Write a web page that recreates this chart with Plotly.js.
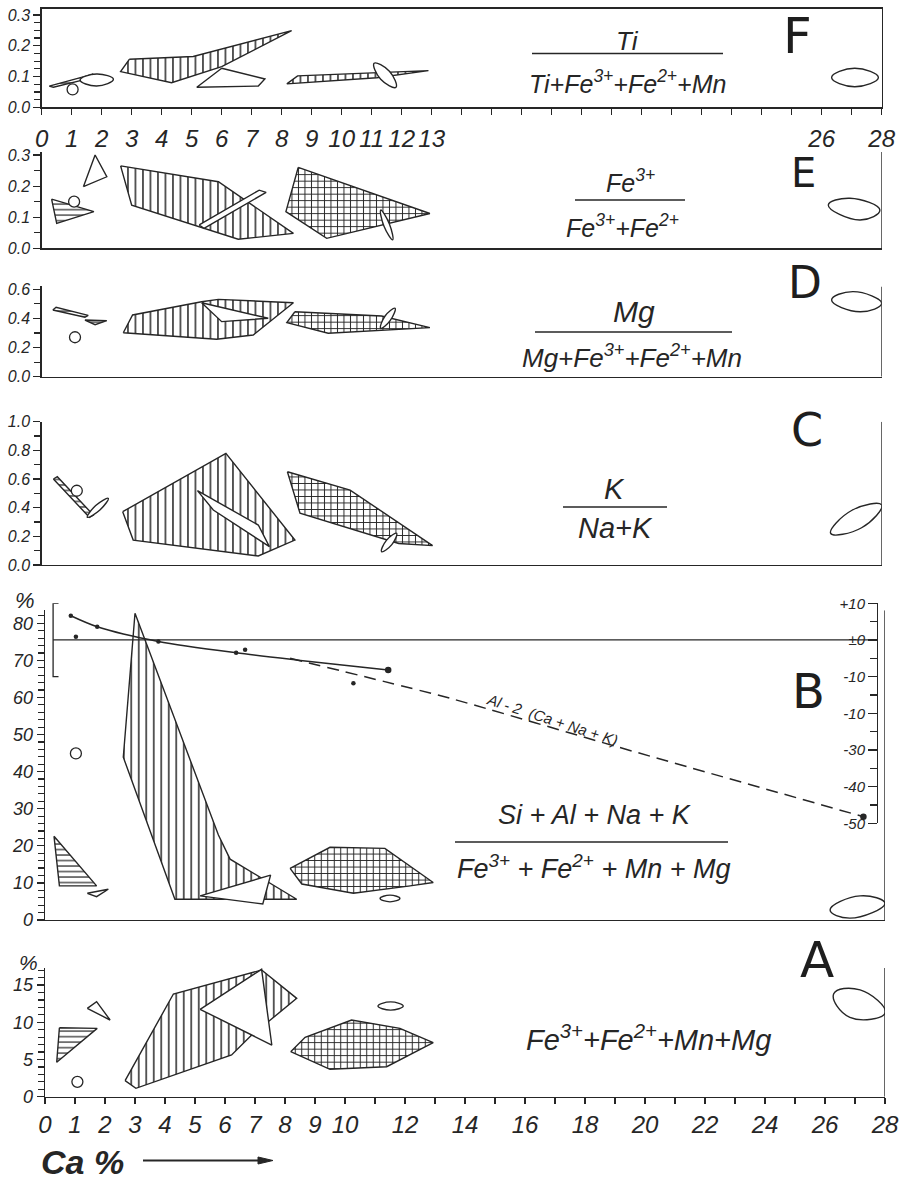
<!DOCTYPE html>
<html><head><meta charset="utf-8">
<script src="https://cdn.plot.ly/plotly-3.0.1.min.js"></script>
<style>html,body{margin:0;padding:0;background:#fff}#chart{width:901px;height:1183px}</style>
</head><body><div id="chart"></div>
<script>
// ---------------- DATA (x = Ca %, y = panel ratio) ----------------
// Panel F : Ti/(Ti+Fe3+Fe2+Mn)
const F_horiz = [[0.25,0.069],[1.72,0.108],[1.39,0.089],[0.39,0.065]];
const F_vert1 = [[2.92,0.156],[5.05,0.165],[8.33,0.249],[6.0,0.132],[4.33,0.080],[2.63,0.116]];
const F_white = [[6.0,0.127],[7.44,0.092],[7.22,0.069],[5.17,0.065]];
const F_vert2 = [[8.17,0.076],[8.53,0.102],[12.89,0.119],[11.17,0.096]];
const F_ellA  = [[1.28,0.089],[1.83,0.108],[2.39,0.091],[1.83,0.069]];
const F_ellB  = [[11.08,0.143],[11.59,0.117],[11.81,0.065],[11.30,0.091]];
const F_ellR  = [[26.33,0.097],[27.1,0.127],[27.89,0.097],[27.1,0.067]];
const F_circ  = [[1.03],[0.058]];
// Panel E : Fe3/(Fe3+Fe2)
const E_tri   = [[1.39,0.198],[1.78,0.30],[2.17,0.230]];
const E_horiz = [[0.33,0.158],[1.74,0.118],[0.5,0.080]];
const E_vert  = [[2.63,0.265],[5.89,0.214],[8.39,0.048],[6.55,0.029],[3.0,0.139]];
const E_white = [[5.25,0.075],[7.25,0.187],[7.48,0.180],[5.41,0.064]];
const E_cross = [[8.55,0.260],[12.94,0.112],[9.5,0.032],[8.14,0.118]];
const E_ellB  = [[11.3,0.123],[11.59,0.078],[11.7,0.027],[11.41,0.071]];
const E_ellR  = [[26.22,0.139],[26.94,0.161],[27.94,0.123],[27.28,0.091]];
const E_circ  = [[1.08],[0.150]];
// Panel D : Mg/(Mg+Fe3+Fe2+Mn)
const D_bar   = [[0.37,0.458],[0.48,0.477],[1.55,0.421],[1.44,0.408]];
const D_tri   = [[1.44,0.389],[2.17,0.385],[1.78,0.357]];
const D_vert  = [[2.72,0.302],[3.03,0.424],[5.33,0.515],[5.89,0.531],[8.39,0.508],[7.05,0.286],[5.83,0.257]];
const D_white = [[5.33,0.508],[7.55,0.401],[6.0,0.378]];
const D_cross = [[8.44,0.446],[11.33,0.417],[12.94,0.337],[9.55,0.298],[8.17,0.371]];
const D_ellB  = [[11.3,0.332],[11.62,0.387],[11.78,0.47],[11.44,0.415]];
const D_ellR  = [[26.33,0.527],[27.05,0.584],[28.0,0.504],[27.28,0.446]];
const D_circ  = [[1.11],[0.271]];
// Panel C : K/(Na+K)
const C_bar   = [[0.39,0.60],[0.52,0.616],[1.72,0.349],[1.59,0.333]];
const C_ellS  = [[1.52,0.333],[1.94,0.384],[2.22,0.465],[1.80,0.415]];
const C_vert  = [[2.7,0.372],[6.14,0.779],[8.44,0.174],[7.22,0.063],[3.05,0.174]];
const C_white = [[5.19,0.519],[7.22,0.279],[7.59,0.128],[5.72,0.384]];
const C_cross = [[8.19,0.651],[10.28,0.523],[13.03,0.135],[11.9,0.150],[8.61,0.361]];
const C_ellB  = [[11.33,0.093],[11.67,0.142],[11.83,0.221],[11.49,0.172]];
const C_ellR  = [[26.3,0.221],[27.33,0.260],[28.0,0.419],[27.01,0.382]];
const C_circ  = [[1.17],[0.518]];
// Panel B : (Si+Al+Na+K)/(Fe3+Fe2+Mn+Mg) in %
const B_vert  = [[3.0,82.7],[2.61,43.9],[4.33,5.6],[8.39,5.6],[6.17,16.4],[5.78,22.9]];
const B_white = [[5.17,6.5],[7.52,12.1],[7.26,4.3]];
const B_horiz = [[0.3,22.6],[1.72,9.2],[0.48,9.2]];
const B_small = [[1.41,7.2],[2.11,8.3],[1.72,6.3]];
const B_cross = [[8.17,13.9],[9.5,19.6],[11.33,19.3],[12.94,10.1],[12.17,9.2],[10.28,7.2],[8.56,9.7]];
const B_ellS  = [[11.17,5.8],[11.5,6.7],[11.83,5.8],[11.5,4.9]];
const B_ellR  = [[26.17,2.7],[27.17,6.5],[28.0,4.5],[26.83,0.5]];
const B_circ  = [[1.03],[44.9]];
// Panel B, right scale : Al - 2(Ca+Na+K)
const AL_curveX = [0.86,1.74,3.78,6.37,8.44,11.44];
const AL_curveY = [6.6,3.6,-0.4,-3.5,-5.5,-8.2];
const AL_dashX  = [8.17,13.5,19.06,27.28];
const AL_dashY  = [-5.0,-15.9,-29.1,-48.2];
const AL_dotX   = [0.86,1.74,1.03,3.78,6.37,6.67,10.28];
const AL_dotY   = [6.6,3.6,0.9,-0.4,-3.5,-2.7,-11.8];
const AL_endX   = [11.44,27.28];
const AL_endY   = [-8.2,-48.2];
// Panel A : Fe3+Fe2+Mn+Mg in %
const A_horiz = [[0.48,9.27],[1.74,9.18],[0.39,4.62]];
const A_small = [[1.41,11.87],[1.72,12.76],[2.17,10.3]];
const A_vert  = [[2.67,2.15],[4.28,13.79],[7.22,17.01],[8.39,13.21],[7.48,10.2],[6.83,8.06],[6.22,5.6],[3.03,1.13]];
const A_white = [[5.17,11.74],[7.22,17.11],[7.56,6.94]];
const A_cross = [[8.19,6.04],[8.67,7.98],[10.22,10.3],[11.83,9.18],[12.94,7.25],[11.39,4.03],[9.5,3.68]];
const A_ellS  = [[11.1,12.18],[11.52,12.73],[11.94,12.18],[11.52,11.63]];
const A_ellR  = [[26.29,13.82],[26.83,10.66],[28.01,11.27],[27.17,14.34]];
const A_circ  = [[1.08],[2.0]];

// Tick values / labels
const F_XTICKS = [0,1,2,3,4,5,6,7,8,9,10,11,12,13,26,28];
const A_XTICKS = [0,1,2,3,4,5,6,7,8,9,10,12,14,16,18,20,22,24,26,28];
const F_YTICKS = [0,0.1,0.2,0.3], F_YLABELS = ['0.0','0.1','0.2','0.3'];
const E_YTICKS = [0,0.1,0.2,0.3], E_YLABELS = ['0.0','0.1','0.2','0.3'];
const D_YTICKS = [0,0.2,0.4,0.6], D_YLABELS = ['0.0','0.2','0.4','0.6'];
const C_YTICKS = [0,0.2,0.4,0.6,0.8,1.0], C_YLABELS = ['0.0','0.2','0.4','0.6','0.8','1.0'];
const B_YTICKS = [0,10,20,30,40,50,60,70,80], B_YLABELS = ['0','10','20','30','40','50','60','70','80'];
const A_YTICKS = [0,5,10,15], A_YLABELS = ['0','5','10','15'];
const S_YTICKS = [-50,-40,-30,-20,-10,0,10], S_YLABELS = ['-50','-40','-30','-10','-10','±0','+10'];

// ---------------- BUILD ----------------
const W = 901, H = 1183;
const INK = '#262626';
const px = p => p / W, py = p => 1 - p / H;
const PAT = {
  v: {shape:'|', size:7.5, solidity:0.2},
  h: {shape:'-', size:5.5, solidity:0.22},
  c: {shape:'+', size:6.5, solidity:0.28}
};
function area(pts, xa, ya, kind) {
  const c = pts.concat([pts[0]]);
  const t = {type:'scatter', mode:'lines', x:c.map(p=>p[0]), y:c.map(p=>p[1]), xaxis:xa, yaxis:ya,
    fill:'toself', fillcolor:'white', hoverinfo:'skip', showlegend:false,
    line:{color:INK, width:1.4, shape: kind==='e' ? 'spline' : 'linear', smoothing:1.3}};
  if (PAT[kind]) t.fillpattern = Object.assign({fgcolor:INK, bgcolor:'white', fillmode:'replace'}, PAT[kind]);
  return t;
}
function circ(c, xa, ya) {
  return {type:'scatter', mode:'markers', x:c[0], y:c[1], xaxis:xa, yaxis:ya, hoverinfo:'skip', showlegend:false,
    marker:{symbol:'circle', size:11, color:'white', line:{color:INK, width:1.3}}};
}
const traces = [
  area(F_vert1,'x','y','v'), area(F_white,'x','y','w'), area(F_vert2,'x','y','v'), area(F_horiz,'x','y','h'),
  area(F_ellA,'x','y','e'), area(F_ellB,'x','y','e'), area(F_ellR,'x','y','e'), circ(F_circ,'x','y'),

  area(E_vert,'x2','y2','v'), area(E_white,'x2','y2','w'), area(E_cross,'x2','y2','c'), area(E_ellB,'x2','y2','e'),
  area(E_horiz,'x2','y2','h'), area(E_tri,'x2','y2','w'), area(E_ellR,'x2','y2','e'), circ(E_circ,'x2','y2'),

  area(D_vert,'x3','y3','v'), area(D_white,'x3','y3','w'), area(D_cross,'x3','y3','c'), area(D_ellB,'x3','y3','e'),
  area(D_bar,'x3','y3','h'), area(D_tri,'x3','y3','h'), area(D_ellR,'x3','y3','e'), circ(D_circ,'x3','y3'),

  area(C_vert,'x4','y4','v'), area(C_white,'x4','y4','w'), area(C_cross,'x4','y4','c'), area(C_ellB,'x4','y4','e'),
  area(C_bar,'x4','y4','h'), area(C_ellS,'x4','y4','e'), area(C_ellR,'x4','y4','e'), circ(C_circ,'x4','y4'),

  area(B_vert,'x5','y5','v'), area(B_white,'x5','y5','w'), area(B_cross,'x5','y5','c'), area(B_horiz,'x5','y5','h'),
  area(B_small,'x5','y5','w'), area(B_ellS,'x5','y5','e'), area(B_ellR,'x5','y5','e'), circ(B_circ,'x5','y5'),

  area(A_vert,'x6','y6','v'), area(A_white,'x6','y6','w'), area(A_cross,'x6','y6','c'), area(A_horiz,'x6','y6','h'),
  area(A_small,'x6','y6','w'), area(A_ellS,'x6','y6','e'), area(A_ellR,'x6','y6','e'), circ(A_circ,'x6','y6'),

  {type:'scatter', mode:'lines', x:AL_curveX, y:AL_curveY, xaxis:'x5', yaxis:'y7', hoverinfo:'skip', showlegend:false,
   line:{color:INK, width:1.5, shape:'spline', smoothing:0.8}},
  {type:'scatter', mode:'lines', x:AL_dashX, y:AL_dashY, xaxis:'x5', yaxis:'y7', hoverinfo:'skip', showlegend:false,
   line:{color:INK, width:1.5, dash:'12px,7px', shape:'spline', smoothing:0.6}},
  {type:'scatter', mode:'markers', x:AL_dotX, y:AL_dotY, xaxis:'x5', yaxis:'y7', hoverinfo:'skip', showlegend:false,
   marker:{size:4.5, color:INK}},
  {type:'scatter', mode:'markers', x:AL_endX, y:AL_endY, xaxis:'x5', yaxis:'y7', hoverinfo:'skip', showlegend:false,
   marker:{size:6.5, color:INK}}
];

const TOPX = [px(41.7), px(881.7)], BOTX = [px(45), px(885)];
const tickF = (s) => ({family:'Liberation Sans, Arial, sans-serif', size:s, color:INK, style:'italic'});
const layout = {
  width:W, height:H, margin:{l:0,r:0,t:0,b:0}, paper_bgcolor:'white', plot_bgcolor:'rgba(0,0,0,0)',
  showlegend:false, annotations:[], shapes:[]
};
const panels = [
  {n:'',  yd:[107.3,8.8],   yr:[0,0.32],  tv:F_YTICKS, tt:F_YLABELS, mn:0.025, xd:TOPX, fs:16},
  {n:'2', yd:[248.3,151.9], yr:[0,0.31],  tv:E_YTICKS, tt:E_YLABELS, mn:0.05,  xd:TOPX, fs:16},
  {n:'3', yd:[376.7,286.4], yr:[0,0.62],  tv:D_YTICKS, tt:D_YLABELS, mn:0.1,   xd:TOPX, fs:16},
  {n:'4', yd:[565,421.7],   yr:[0,1.0],   tv:C_YTICKS, tt:C_YLABELS, mn:0.1,   xd:TOPX, fs:16},
  {n:'5', yd:[920,610.3],   yr:[0,83.5],  tv:B_YTICKS, tt:B_YLABELS, mn:2,     xd:BOTX, fs:18},
  {n:'6', yd:[1096.7,967.9],yr:[0,17.3],  tv:A_YTICKS, tt:A_YLABELS, mn:1,     xd:BOTX, fs:18}
];
panels.forEach((p, i) => {
  const xid = 'x' + p.n, yid = 'y' + p.n;
  const ax = {domain:p.xd, range:[0,28], anchor:yid, showline:true, linecolor:INK, linewidth:1.4,
    showgrid:false, zeroline:false, ticks:'', showticklabels:false, fixedrange:true};
  if (i === 0 || i === 5) {
    const tv = i === 0 ? F_XTICKS : A_XTICKS;
    Object.assign(ax, {tickmode:'array', tickvals:tv, ticktext:tv.map(String), ticks:'outside', ticklen:6,
      tickcolor:INK, tickwidth:1.2, showticklabels:true, tickfont:tickF(24), ticklabelstandoff: i===0 ? 3 : 0,
      minor:{tickmode:'linear', tick0:0, dtick:1, ticks:'outside', ticklen:6, tickcolor:INK, tickwidth:1.2}});
  }
  if (i === 0) ax.mirror = true;
  layout['xaxis' + p.n] = ax;
  const ay = {domain:[py(p.yd[0]), py(p.yd[1])], range:p.yr, anchor:xid, showline:true, linecolor:INK, linewidth:1.4,
    showgrid:false, zeroline:false, tickmode:'array', tickvals:p.tv, ticktext:p.tt, ticks:'outside', ticklen:7,
    tickcolor:INK, tickwidth:1.2, tickfont:tickF(p.fs), fixedrange:true,
    minor:{tickmode:'linear', tick0:0, dtick:p.mn, ticks:'outside', ticklen:6, tickcolor:INK, tickwidth:1.2}};
  if (i === 0) ay.mirror = true;
  layout['yaxis' + p.n] = ay;
  // inner half of the crossing ticks
  layout['yaxis' + (8 + i)] = {overlaying:yid, anchor:xid, side:'left', range:p.yr, showline:false, showgrid:false,
    zeroline:false, showticklabels:false, tickmode:'array', tickvals:p.tv, ticks:'inside', ticklen:6,
    tickcolor:INK, tickwidth:1.2, fixedrange:true,
    minor:{tickmode:'linear', tick0:0, dtick:p.mn, ticks:'inside', ticklen:6, tickcolor:INK, tickwidth:1.2}};
  // right frame line
  if (i > 0) layout.shapes.push({type:'line', xref:xid, yref:yid, x0:28, x1:28, y0:0, y1:p.yr[1],
    line:{color:INK, width:1.4}});
});
// inner half of crossing x ticks (F and A)
[['x','y',F_XTICKS,7],['x6','y6',A_XTICKS,8]].forEach(([xa,ya,tv,k]) => {
  layout['xaxis' + k] = {overlaying:xa, anchor:ya, side:'bottom', range:[0,28], showline:false, showgrid:false,
    zeroline:false, showticklabels:false, tickmode:'array', tickvals:tv, ticks:'inside', ticklen:5,
    tickcolor:INK, tickwidth:1.2, fixedrange:true,
    minor:{tickmode:'linear', tick0:0, dtick:1, ticks:'inside', ticklen:5, tickcolor:INK, tickwidth:1.2}};
});
// right-hand scale of panel B
layout.yaxis7 = {domain:[py(823.3), py(603.3)], range:[-50,10], anchor:'free', position:px(877), side:'left',
  showline:true, linecolor:INK, linewidth:1.4, showgrid:false, zeroline:false, tickmode:'array',
  tickvals:S_YTICKS, ticktext:S_YLABELS, ticks:'outside', ticklen:9, tickcolor:INK, tickwidth:1.2,
  tickfont:tickF(15), fixedrange:true,
  minor:{tickmode:'linear', tick0:0, dtick:5, ticks:'outside', ticklen:7, tickcolor:INK, tickwidth:1.2}};
// zero line + bracket on the left
layout.shapes.push({type:'line', xref:'x5', yref:'y7', x0:0.27, x1:27.75, y0:0, y1:0, line:{color:INK, width:1.3}});
layout.shapes.push({type:'path', xref:'x5', yref:'y7', path:'M0.45,10 L0.27,10 L0.27,-10 L0.45,-10', line:{color:INK, width:1.3}});

// fraction bars
[[532,723,53.5],[575,685,200],[535,732,332],[563,667,507],[455,728,842]].forEach(([a,b,y]) =>
  layout.shapes.push({type:'line', xref:'paper', yref:'paper', x0:px(a), x1:px(b), y0:py(y), y1:py(y),
    line:{color:INK, width:1.3}}));
// "Ca %" arrow
layout.shapes.push({type:'line', xref:'paper', yref:'paper', x0:px(143), x1:px(262), y0:py(1160.5), y1:py(1160.5), line:{color:INK, width:2}});
layout.shapes.push({type:'path', xref:'paper', yref:'paper',
  path:`M${px(273)},${py(1160.5)} L${px(258)},${py(1157)} L${px(258)},${py(1164)} Z`, fillcolor:INK, line:{color:INK, width:1}});

const FF = 'Liberation Sans, Arial, sans-serif';
function ann(x, y, text, size, opts) {
  layout.annotations.push(Object.assign({xref:'paper', yref:'paper', x:px(x), y:py(y), text:text, showarrow:false,
    xanchor:'center', yanchor:'middle', font:{family:FF, size:size, color:INK, style:'italic'}}, opts || {}));
}
const LET = s => ({font:{family:'DejaVu Sans, sans-serif', size:s, color:'#1e1e1e'}});
ann(627, 41, 'Ti', 26);
ann(627, 82, 'Ti+Fe<sup>3+</sup>+Fe<sup>2+</sup>+Mn', 25);
ann(630, 181, 'Fe<sup>3+</sup>', 25);
ann(622, 226, 'Fe<sup>3+</sup>+Fe<sup>2+</sup>', 25);
ann(634, 311, 'Mg', 30);
ann(632, 356, 'Mg+Fe<sup>3+</sup>+Fe<sup>2+</sup>+Mn', 26);
ann(614, 489, 'K', 29);
ann(615, 528, 'Na+K', 29);
ann(594, 815, 'Si + Al + Na + K', 27);
ann(593, 867, 'Fe<sup>3+</sup> + Fe<sup>2+</sup> + Mn + Mg', 27);
ann(648, 1038, 'Fe<sup>3+</sup>+Fe<sup>2+</sup>+Mn+Mg', 29);
ann(552, 719, 'Al - 2  (Ca + Na + K)', 15, {textangle:18});
ann(25, 600, '%', 22);
ann(28, 962, '%', 21);
ann(82, 1162, 'Ca %', 34, {font:{family:FF, size:34, color:INK, style:'italic', weight:'bold'}});
ann(797, 36, 'F', 50, LET(50));
ann(803, 173, 'E', 40, LET(40));
ann(805, 283, 'D', 44, LET(44));
ann(807, 430, 'C', 46, LET(46));
ann(808, 691, 'B', 48, LET(48));
ann(817, 960, 'A', 50, LET(50));

Plotly.newPlot('chart', traces, layout, {staticPlot:true, displayModeBar:false});
</script></body></html>
